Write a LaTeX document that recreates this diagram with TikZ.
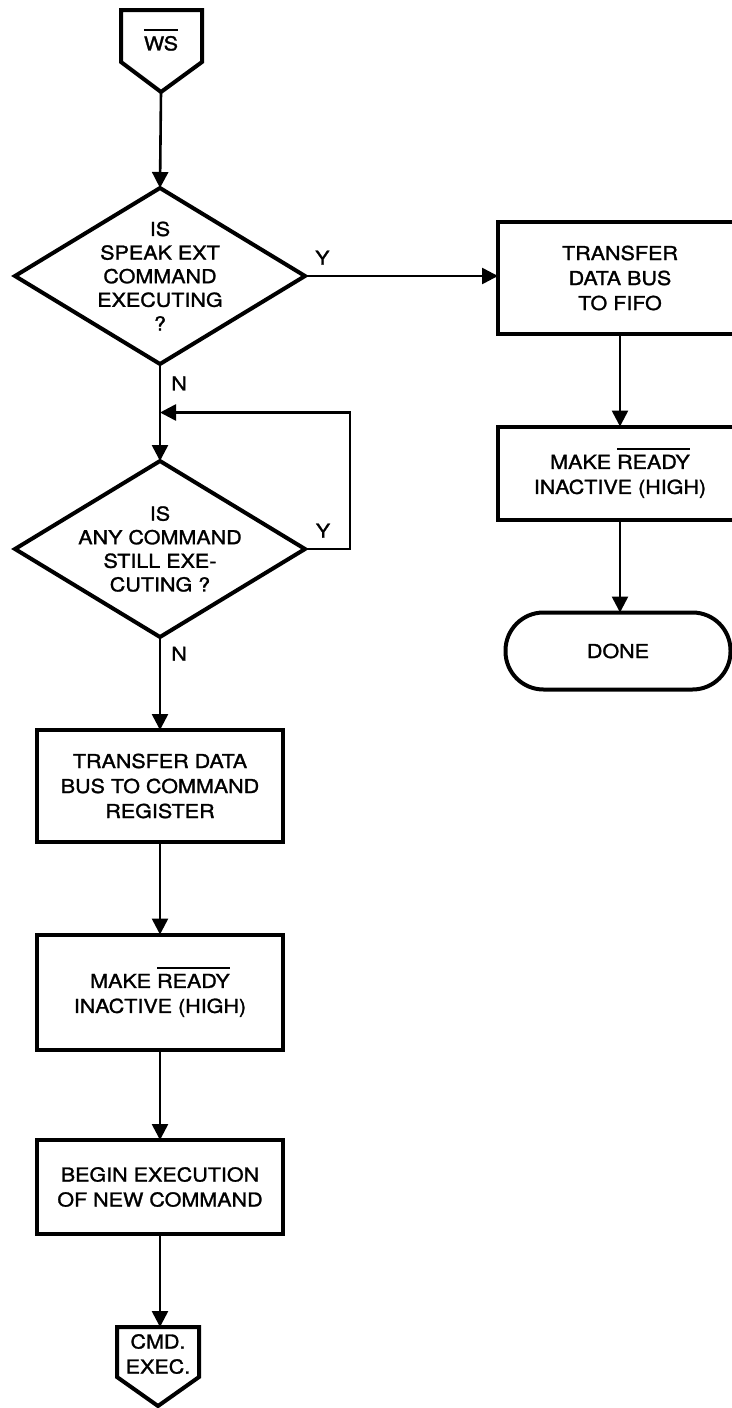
\documentclass[tikz,border=0pt]{standalone}
\usepackage{fontspec}
\setmainfont{TeX Gyre Heros}[FakeStretch=1.12, FakeBold=1.4]
\usetikzlibrary{shapes.geometric,arrows.meta,calc}
\newcommand{\barred}[1]{\setbox0\hbox{#1}\rlap{\rule[\dimexpr\ht0+2.5pt\relax]{\wd0}{0.9pt}}\box0}
\begin{document}
\begin{tikzpicture}[x=0.5pt,y=-0.5pt,
  fnt/.style={font=\fontsize{9.6}{12.5}\selectfont},
  box/.style={draw, line width=2pt, minimum width=123pt, inner sep=0pt, outer sep=0pt, align=center, fnt},
  diam/.style={draw, diamond, line width=2pt, minimum width=145pt, minimum height=88pt, inner sep=0pt, outer sep=0pt},
  dtxt/.style={align=center, inner sep=0pt, font=\fontsize{9.6}{11.8}\selectfont},
  conn/.style={line width=1.3pt, -{Triangle[length=8pt,width=8pt]}},
  lbl/.style={inner sep=0pt, fnt},
  pent/.style={draw, line width=2pt, line join=miter}]
\clip (0,0) rectangle (732,1408);
% start connector
\draw[pent] (121,10) -- (202,10) -- (202,62) -- (161,92) -- (121,62) -- cycle;
\coordinate (wsTip) at (161,92);
\node[lbl] (ws) at (161,40) {\barred{WS}};
% decisions
\node[diam] (D1) at (160,276) {};
\node[dtxt] (D1t) at (D1) {IS\\SPEAK EXT\\COMMAND\\EXECUTING\\?};
\node[diam] (D2) at (160,549) {};
\node[dtxt] (D2t) at (D2) {IS\\ANY COMMAND\\STILL EXE-\\CUTING ?};
% left boxes
\node[box, minimum height=56pt] (L1) at (160,786) {TRANSFER DATA\\BUS TO COMMAND\\REGISTER};
\node[box, minimum height=57.5pt] (L2) at (160,992) {MAKE \barred{READY}\\INACTIVE (HIGH)};
\node[box, minimum height=47pt] (L3) at (160,1187) {BEGIN EXECUTION\\OF NEW COMMAND};
% right boxes
\node[box, minimum height=56pt, minimum width=122pt] (R1) at (620,278) {TRANSFER\\DATA BUS\\TO FIFO};
\node[box, minimum height=46.5pt, minimum width=122pt] (R2) at (620,473) {MAKE \barred{READY}\\INACTIVE (HIGH)};
\node[box, rounded corners=19pt, minimum height=38.5pt, minimum width=112.5pt] (done) at (618,651) {DONE};
% end connector
\draw[pent] (117,1327) -- (199,1327) -- (199,1377) -- (158,1406) -- (117,1377) -- cycle;
\coordinate (cmdTop) at (160,1327);
\node[lbl, align=center] (cmd) at (158,1354) {CMD.\\EXEC.};
% connectors
\draw[conn] (wsTip) -- (D1.north);
\draw[conn] (D1.east) -- (D1.east -| R1.west) node[lbl, pos=0.09, above=5pt] {Y};
\coordinate (jn) at ($(D1.south)!0.5!(D2.north)$);
\draw[conn] (D1.south) -- (D2.north) node[lbl, pos=0.2, right=5pt] {N};
\draw[conn] (D2.east) -- ++(45,0) node[lbl, pos=0.4, above=5pt] {Y} |- (jn);
\draw[conn] (D2.south) -- (L1.north) node[lbl, pos=0.18, right=5pt] {N};
\draw[conn] (L1) -- (L2);
\draw[conn] (L2) -- (L3);
\draw[conn] (L3.south) -- (cmdTop);
\draw[conn] (R1) -- (R2);
\draw[conn] (R2.south) -- (R2.south |- done.north);
\end{tikzpicture}
\end{document}
